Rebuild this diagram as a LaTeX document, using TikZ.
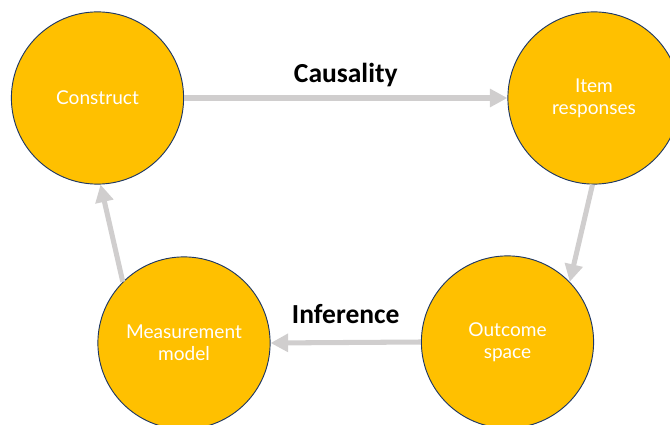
\documentclass[tikz,border=0pt]{standalone}
\usepackage{fontspec}
\setmainfont{Lato}
\newfontfamily\labelfont{Carlito}
\usetikzlibrary{arrows.meta}
\definecolor{gold}{HTML}{FFC000}
\definecolor{navy}{HTML}{1F3864}
\definecolor{arrowgray}{HTML}{D0CECE}
\tikzset{
  stage/.style={circle, draw=navy, line width=0.8pt, fill=gold, minimum size=147pt,
    inner sep=0pt, align=center, text=white, font=\fontsize{16.3}{19}\selectfont},
  flow/.style={draw=arrowgray, line width=4.3pt, -{Triangle[length=15pt,width=15pt]}},
  lbl/.style={font=\labelfont\bfseries\fontsize{23.5}{25}\selectfont, anchor=base}
}
\begin{document}
\begin{tikzpicture}[x=0.03cm,y=-0.03cm]
        \useasboundingbox (0,0) rectangle (670,425);
        % Stages
        \node[stage] (construct) at (97.5,98) {Construct};
        \node[stage] (item) at (594,98) {Item\\responses};
        \node[stage] (outcome) at (507.5,342) {Outcome\\space};
        \node[stage] (measure) at (184,343) {Measurement\\model};
        % Arrows
        \draw[flow] (construct) -- node[lbl, midway, yshift=13pt] {Causality} (item);
        \draw[flow] (item.-91) -- (outcome.44);
        \draw[flow] (outcome.180) -- node[lbl, midway, yshift=16pt] {Inference} (measure.0);
        \draw[flow] (measure.135) -- (construct.-88);
\end{tikzpicture}
\end{document}
